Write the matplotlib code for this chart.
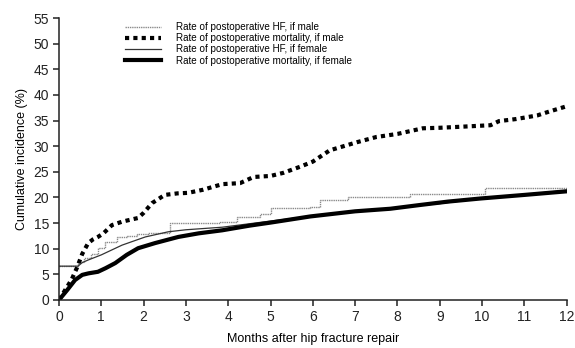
import numpy as np
import matplotlib.pyplot as plt

plt.rcParams['font.family'] = ['Liberation Sans', 'DejaVu Sans']

# --- data (months, cumulative incidence %) ---
male_hf_x = [0, 0.45, 0.6, 0.75, 0.92, 1.09, 1.37, 1.6, 1.85, 2.1, 2.63, 3.81, 4.2, 4.76, 5.0, 5.94, 6.18, 6.82, 8.3, 10.08, 12.0]
male_hf_y = [6.6, 7.5, 8.2, 9.0, 10.1, 11.3, 12.3, 12.5, 12.8, 13.0, 15.0, 15.2, 16.2, 16.8, 17.9, 18.1, 19.5, 20.0, 20.6, 21.8, 21.8]

male_mort_x = [0, 0.15, 0.3, 0.43, 0.55, 0.69, 0.8, 0.92, 1.05, 1.25, 1.5, 1.87, 2.0, 2.2, 2.5, 2.8, 3.05, 3.4,
               3.86, 4.28, 4.6, 5.0, 5.3, 5.7, 6.0, 6.4, 7.05, 7.5, 8.0, 8.6, 9.0, 9.5, 10.2, 10.4, 10.8, 11.3, 11.6, 12.0]
male_mort_y = [0, 2, 4, 6.4, 9, 11.1, 11.8, 12.3, 13.0, 14.6, 15.3, 16, 17, 18.9, 20.5, 20.8, 20.9, 21.5,
               22.6, 22.8, 24, 24.2, 24.8, 26, 27, 29.2, 30.8, 31.8, 32.4, 33.5, 33.6, 33.8, 34.1, 34.9, 35.3, 36, 36.8, 37.8]

female_hf_x = [0, 0.45, 0.55, 0.69, 1.0, 1.49, 2.04, 2.58, 3.0, 3.86, 5.0, 6.0, 7.0, 8.0, 9.0, 10.0, 11.0, 12.0]
female_hf_y = [6.6, 6.6, 7.3, 7.8, 8.8, 10.7, 12.3, 13.3, 13.7, 14.2, 15.4, 16.4, 17.3, 18.0, 18.8, 19.8, 20.6, 21.4]

female_mort_x = [0, 0.1, 0.2, 0.38, 0.55, 0.7, 0.92, 1.1, 1.33, 1.6, 1.87, 2.27, 2.82, 3.3, 3.86, 4.5, 5.0,
                 5.94, 7.0, 7.83, 8.5, 9.2, 9.96, 11.0, 12.0]
female_mort_y = [0, 1.0, 2.0, 3.9, 4.9, 5.2, 5.5, 6.2, 7.2, 8.8, 10.1, 11.1, 12.3, 13.0, 13.6, 14.5, 15.1,
                 16.3, 17.3, 17.8, 18.5, 19.2, 19.8, 20.5, 21.2]

labels = ['Rate of postoperative HF, if male',
          'Rate of postoperative mortality, if male',
          'Rate of postoperative HF, if female',
          'Rate of postoperative mortality, if female']

fig = plt.figure(figsize=(5.75, 3.48), dpi=100)
ax = fig.add_axes([0.1026, 0.138, 0.883, 0.81])

ax.plot(male_hf_x, male_hf_y, drawstyle='steps-post', color='#8a8a8a', lw=1.0,
        linestyle=(0, (1, 0.6)), label=labels[0])
ax.plot(male_mort_x, male_mort_y, color='black', lw=3.0, linestyle=(0, (1, 1)), label=labels[1])
ax.plot(female_hf_x, female_hf_y, color='#333333', lw=0.9, label=labels[2])
ax.plot(female_mort_x, female_mort_y, color='black', lw=3.0, label=labels[3])

ax.set_xlim(0, 12)
ax.set_ylim(0, 55)
ax.set_xticks(range(0, 13))
ax.set_yticks(range(0, 56, 5))
for s in ['top', 'right']:
    ax.spines[s].set_visible(False)
for s in ['left', 'bottom']:
    ax.spines[s].set_linewidth(1.1)
    ax.spines[s].set_color('#222222')
ax.tick_params(length=4, width=1.1, pad=3, labelsize=10, colors='#222222')
ax.set_xlabel('Months after hip fracture repair', fontsize=9, labelpad=7)
ax.set_ylabel('Cumulative incidence (%)', fontsize=9, labelpad=4)

ax.legend(loc='upper left', bbox_to_anchor=(125 / 575, 1 - 22 / 348), bbox_transform=fig.transFigure,
          frameon=False, fontsize=7.1, handlelength=3.6, handletextpad=1.6, labelspacing=0.12,
          borderaxespad=0, borderpad=0)

fig.savefig('out.png', dpi=100)
